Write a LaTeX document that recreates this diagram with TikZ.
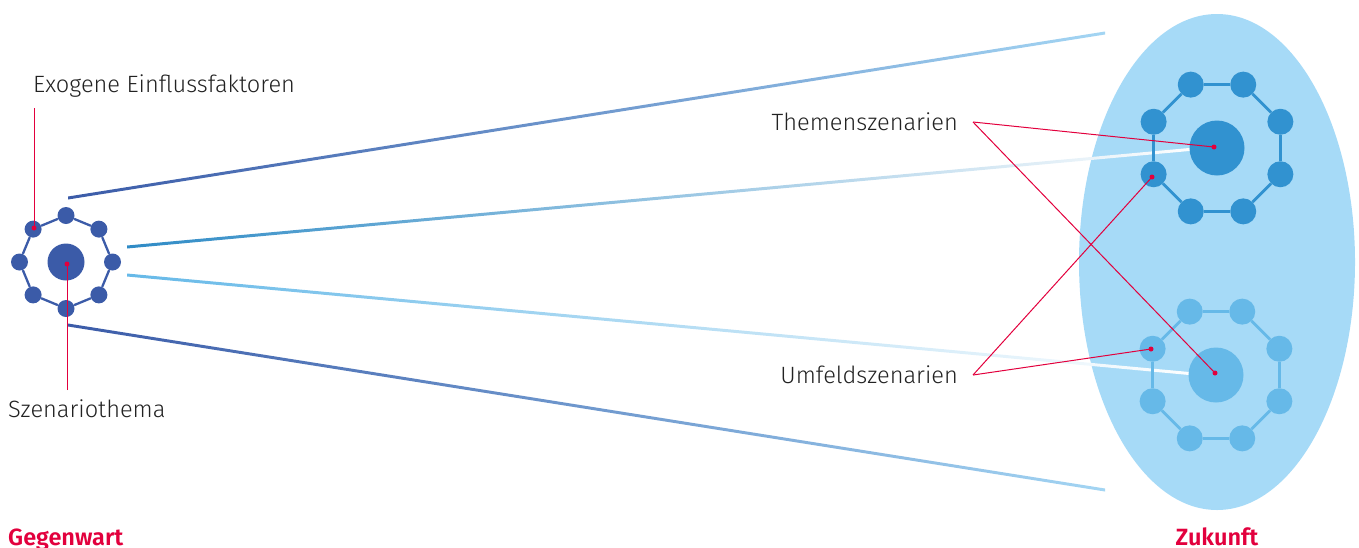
\documentclass[tikz,border=0pt]{standalone}
\usepackage{fontspec}
\setmainfont{Fira Sans Light}[BoldFont=Fira Sans SemiBold]
\usetikzlibrary{calc}
\definecolor{cDark}{HTML}{3B5BA8}
\definecolor{cTop}{HTML}{3192D0}
\definecolor{cBot}{HTML}{66B9E8}
\definecolor{cOval}{HTML}{A6DAF7}
\definecolor{cBeamEnd}{HTML}{A3D5F3}
\definecolor{cRed}{HTML}{E2003D}
\definecolor{cText}{HTML}{222222}
\begin{document}
\begin{tikzpicture}[x=1pt,y=-1pt,
  sat/.style={circle,inner sep=0pt,minimum size=#1,draw=none},
  ring/.style={line width=#1},
  dot/.style={circle,inner sep=0pt,minimum size=5pt,fill=cRed,draw=none},
  pointer/.style={draw=cRed,line width=1pt},
  lbl/.style={anchor=base west,inner sep=0pt,text=cText,font=\fontsize{23.6}{28}\selectfont},
  lblR/.style={anchor=base east,inner sep=0pt,text=cText,font=\fontsize{23.6}{28}\selectfont},
  era/.style={inner sep=0pt,text=cRed,font=\fontsize{23.5}{28}\selectfont\bfseries}]
\useasboundingbox (0,0) rectangle (1359,547);

% the future: large oval
\fill[cOval] (1217,262) ellipse [x radius=138, y radius=248];

% outer beams
\shade[left color=cDark,right color=cBeamEnd]
  (68,196.5) -- (1105,31.5) -- (1105,34.5) -- (68,199.5) -- cycle;
\shade[left color=cDark,right color=cBeamEnd]
  (68,323.5) -- (1105,488.5) -- (1105,491.5) -- (68,326.5) -- cycle;
% inner beams fading to white
\shade[left color=cTop!95!black,right color=white]
  (127,245.5) -- (1200,147) -- (1200,150) -- (127,248.5) -- cycle;
\shade[left color=cBot,right color=white]
  (127,273.5) -- (1200,373) -- (1200,376) -- (127,276.5) -- cycle;

% present: scenario topic with its factors
\node[sat=37pt,fill=cDark] (lc) at (66,262) {};
\foreach \i in {0,...,7}
  \node[sat=17pt,fill=cDark] (l\i) at ($(66,262)+({90+45*\i}:46.5)$) {};
\foreach \i [evaluate=\i as \j using {int(mod(\i+1,8))}] in {0,...,7}
  \draw[cDark,ring=2.3pt] (l\i) -- (l\j);

% future: topic scenarios
\node[sat=55pt,fill=cTop] (tc) at (1217,148) {};
\foreach \i in {0,...,7}
  \node[sat=26pt,fill=cTop] (t\i) at ($(1217,148)+({22.5+45*\i}:68.6)$) {};
\foreach \i [evaluate=\i as \j using {int(mod(\i+1,8))}] in {0,...,7}
  \draw[cTop,ring=2.7pt] (t\i) -- (t\j);

% future: environment scenarios
\node[sat=55pt,fill=cBot] (bc) at (1216,375) {};
\foreach \i in {0,...,7}
  \node[sat=26pt,fill=cBot] (b\i) at ($(1216,375)+({22.5+45*\i}:68.6)$) {};
\foreach \i [evaluate=\i as \j using {int(mod(\i+1,8))}] in {0,...,7}
  \draw[cBot,ring=2.7pt] (b\i) -- (b\j);

% labels
\node[lbl] (lExo) at (33,92) {Exogene Einflussfaktoren};
\node[lbl] (lSze) at (8,417) {Szenariothema};
\node[lblR] (lThe) at (958,130) {Themenszenarien};
\node[lblR] (lUmf) at (958,383) {Umfeldszenarien};
\node[era,anchor=base west] (lGeg) at (8,545) {Gegenwart};
\node[era,anchor=base] (lZuk) at (1217,545) {Zukunft};

% pointer targets
\node[dot] (dExo) at (34,228) {};
\node[dot] (dSze) at (67,264) {};
\node[dot] (dTc) at (1214,147) {};
\node[dot] (dTs) at (1152,177) {};
\node[dot] (dBc) at (1215,373) {};
\node[dot] (dBs) at (1151,349) {};

\coordinate (pExo) at (34,108);
\coordinate (pSze) at (67,390);
\coordinate (pThe) at (973,122);
\coordinate (pUmf) at (973,375);

\draw[pointer] (pExo) -- (dExo.center);
\draw[pointer] (pSze) -- (dSze.center);
\draw[pointer] (pThe) -- (dTc.center);
\draw[pointer] (pThe) -- (dBc.center);
\draw[pointer] (pUmf) -- (dTs.center);
\draw[pointer] (pUmf) -- (dBs.center);
\end{tikzpicture}
\end{document}
